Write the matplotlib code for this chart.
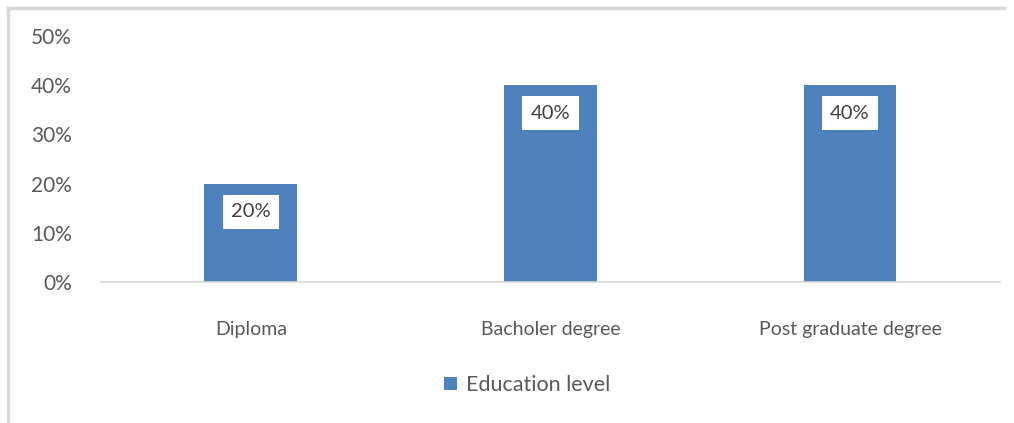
import matplotlib.pyplot as plt
from matplotlib.lines import Line2D
from matplotlib.ticker import PercentFormatter

categories = ['Diploma', 'Bacholer degree', 'Post graduate degree']
values = [0.20, 0.40, 0.40]
series_name = 'Education level'
yticks = [0, 0.1, 0.2, 0.3, 0.4, 0.5]

plt.rcParams['font.family'] = ['Lato', 'DejaVu Sans']

fig = plt.figure(figsize=(10.14, 4.23), dpi=100)
ax = fig.add_axes([0.0996, 0.3333, 0.8864, 0.5816])

bar_color = '#4f81bd'
x = range(len(categories))
bars = ax.bar(x, values, width=0.31, color=bar_color, label=series_name, zorder=2)

for xi, v in zip(x, values):
    ax.annotate(f'{v:.0%}', (xi, v), xytext=(0, -28), textcoords='offset pixels',
                ha='center', va='center', fontsize=14.5, color='#404040',
                bbox=dict(boxstyle='square,pad=0.42', fc='white', ec='none'))

ax.set_xlim(-0.5, len(categories) - 0.5)
ax.set_ylim(0, 0.5)
ax.set_yticks(yticks)
ax.yaxis.set_major_formatter(PercentFormatter(1.0, decimals=0))
ax.set_xticks(list(x))
ax.set_xticklabels(categories)
ax.tick_params(axis='both', length=0, labelcolor='#595959')
ax.tick_params(axis='x', pad=28, labelsize=14)
ax.tick_params(axis='y', pad=21, labelsize=15)

for side in ['top', 'right', 'left']:
    ax.spines[side].set_visible(False)
ax.spines['bottom'].set_color('#d9d9d9')
ax.spines['bottom'].set_linewidth(1.2)

leg = fig.legend(handles=[bars], labels=[series_name], loc='center',
                 bbox_to_anchor=(0.52, 0.09), frameon=False, fontsize=15.5,
                 handlelength=0.6, handleheight=0.6, handletextpad=0.4)
for t in leg.get_texts():
    t.set_color('#595959')

# chart frame (left and top edges visible)
fig.add_artist(Line2D([0.0075, 0.0075], [0, 0.981], transform=fig.transFigure,
                      color='#d9d9d9', lw=2.5))
fig.add_artist(Line2D([0.0075, 0.99], [0.981, 0.981], transform=fig.transFigure,
                      color='#d9d9d9', lw=2.5))

fig.savefig('out.png', dpi=100, facecolor='white')
